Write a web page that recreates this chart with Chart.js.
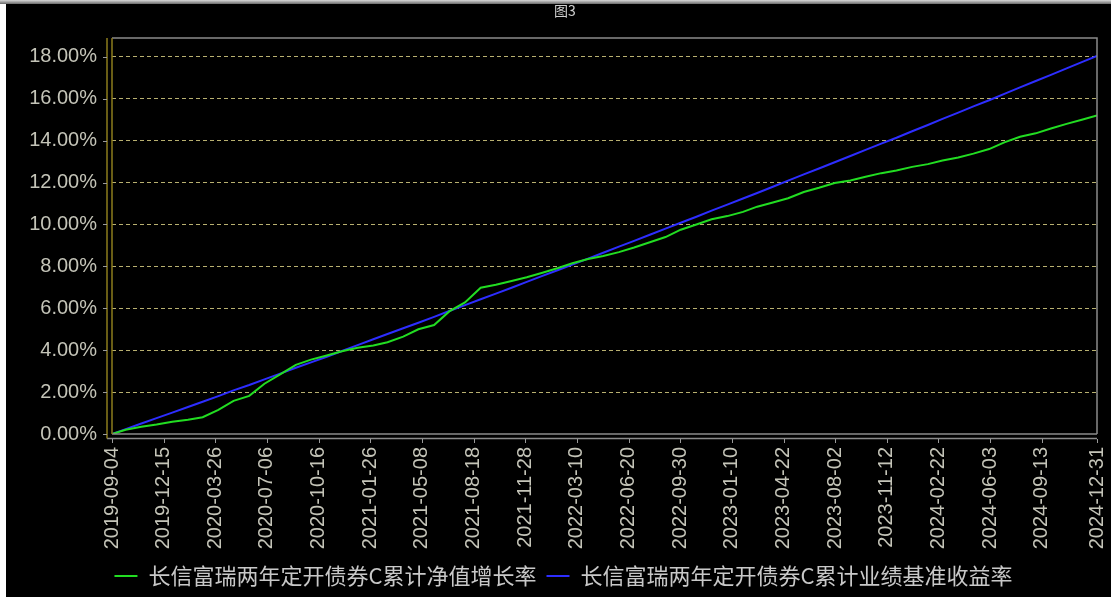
<!DOCTYPE html>
<html><head><meta charset="utf-8">
<script src="https://cdn.jsdelivr.net/npm/chart.js@4.4.1/dist/chart.umd.min.js"></script>
<style>
html,body{margin:0;padding:0;background:#fff;width:1111px;height:597px;overflow:hidden;}
#topbar{position:absolute;left:0;top:0;width:1111px;height:4px;background:linear-gradient(#d8d8d8,#6a6a6a);}
#wrap{position:absolute;left:6px;top:4px;width:1105px;height:593px;background:#000;}
canvas{display:block;}
</style></head><body>
<div id="topbar"></div>
<div id="wrap"><canvas id="c" width="1105" height="593"></canvas></div>
<script>
const titleText = '图3';
const seriesNames = ['长信富瑞两年定开债券C累计净值增长率', '长信富瑞两年定开债券C累计业绩基准收益率'];
const startDate = '2019-09-04';
const endDate = '2024-12-31';
const dates = ['2019-09-04','2019-10-01','2019-11-01','2019-12-01','2020-01-01','2020-02-01','2020-03-01','2020-04-01','2020-05-01','2020-06-01','2020-07-01','2020-08-01','2020-09-01','2020-10-01','2020-11-01','2020-12-01','2021-01-01','2021-02-01','2021-03-01','2021-04-01','2021-05-01','2021-06-01','2021-07-01','2021-08-01','2021-09-01','2021-10-01','2021-11-01','2021-12-01','2022-01-01','2022-02-01','2022-03-01','2022-04-01','2022-05-01','2022-06-01','2022-07-01','2022-08-01','2022-09-01','2022-10-01','2022-11-01','2022-12-01','2023-01-01','2023-02-01','2023-03-01','2023-04-01','2023-05-01','2023-06-01','2023-07-01','2023-08-01','2023-09-01','2023-10-01','2023-11-01','2023-12-01','2024-01-01','2024-02-01','2024-03-01','2024-04-01','2024-05-01','2024-06-01','2024-07-01','2024-08-01','2024-09-01','2024-10-01','2024-11-01','2024-12-01','2024-12-31'];
const navGrowth = [0,0.2,0.35,0.45,0.58,0.68,0.8,1.15,1.58,1.82,2.4,2.85,3.3,3.55,3.75,3.95,4.12,4.22,4.38,4.65,5.0,5.2,5.85,6.28,6.98,7.12,7.3,7.48,7.7,7.92,8.15,8.35,8.5,8.68,8.9,9.15,9.4,9.75,10.0,10.25,10.4,10.6,10.85,11.05,11.25,11.55,11.75,11.98,12.1,12.28,12.45,12.58,12.75,12.88,13.05,13.2,13.38,13.6,13.92,14.19,14.35,14.58,14.8,15.0,15.2];
const benchmark = [0,0.23,0.5,0.76,1.02,1.29,1.54,1.81,2.08,2.34,2.61,2.88,3.16,3.42,3.69,3.96,4.24,4.52,4.77,5.05,5.31,5.59,5.87,6.15,6.43,6.7,6.98,7.26,7.55,7.83,8.09,8.37,8.65,8.94,9.22,9.51,9.8,10.08,10.37,10.66,10.95,11.24,11.5,11.8,12.09,12.39,12.67,12.97,13.27,13.56,13.86,14.14,14.45,14.75,15.04,15.34,15.64,15.93,16.23,16.54,16.85,17.14,17.45,17.75,18.05];
const xTickLabels = ['2019-09-04','2019-12-15','2020-03-26','2020-07-06','2020-10-16','2021-01-26','2021-05-08','2021-08-18','2021-11-28','2022-03-10','2022-06-20','2022-09-30','2023-01-10','2023-04-22','2023-08-02','2023-11-12','2024-02-22','2024-06-03','2024-09-13','2024-12-31'];
const yTickValues = [0,2,4,6,8,10,12,14,16,18];
const colors = ['#22dd22', '#2d2dff'];

const dayOf = s => Math.round((Date.parse(s) - Date.parse(startDate)) / 86400000);
const pts = arr => dates.map((d, i) => ({x: dayOf(d), y: arr[i]}));

const frame = {
  id: 'frame',
  afterDraw(chart) {
    const {ctx, chartArea: a, scales} = chart;
    ctx.save();
    ctx.lineWidth = 1.5;
    ctx.strokeStyle = '#8a8a8a';
    ctx.beginPath();
    ctx.moveTo(a.left, a.top); ctx.lineTo(a.right, a.top); ctx.lineTo(a.right, a.bottom);
    ctx.moveTo(a.left, a.bottom); ctx.lineTo(a.right, a.bottom);
    ctx.moveTo(a.left - 5, a.bottom + 4.5); ctx.lineTo(a.right, a.bottom + 4.5);
    ctx.stroke();
    ctx.strokeStyle = '#8c7c1c';
    ctx.beginPath();
    ctx.moveTo(a.left, a.top); ctx.lineTo(a.left, a.bottom);
    ctx.moveTo(a.left - 5, a.top); ctx.lineTo(a.left - 5, a.bottom + 4.5);
    ctx.stroke();
    ctx.strokeStyle = '#9a9a9a';
    ctx.lineWidth = 1;
    ctx.beginPath();
    scales.y.ticks.forEach(t => {
      const y = Math.round(scales.y.getPixelForValue(t.value)) + 0.5;
      ctx.moveTo(a.left - 9, y); ctx.lineTo(a.left - 5, y);
    });
    scales.x.ticks.forEach(t => {
      const x = Math.round(scales.x.getPixelForValue(t.value)) + 0.5;
      ctx.moveTo(x, a.bottom + 5); ctx.lineTo(x, a.bottom + 9);
    });
    ctx.stroke();
    ctx.fillStyle = '#d0d0d0';
    ctx.font = '14px "Noto Sans CJK SC"';
    ctx.textAlign = 'center';
    ctx.textBaseline = 'middle';
    ctx.fillText(titleText, 559, 7);
    ctx.restore();
  }
};

new Chart(document.getElementById('c'), {
  type: 'line',
  data: {
    datasets: [
      {label: seriesNames[0], data: pts(navGrowth), borderColor: colors[0], backgroundColor: colors[0], borderWidth: 2, pointRadius: 0, tension: 0},
      {label: seriesNames[1], data: pts(benchmark), borderColor: colors[1], backgroundColor: colors[1], borderWidth: 2, pointRadius: 0, tension: 0}
    ]
  },
  options: {
    responsive: false,
    animation: false,
    devicePixelRatio: 1,
    layout: {padding: {top: 34, right: 14, left: 24, bottom: 0}},
    plugins: {
      tooltip: {enabled: false},
      legend: {
        position: 'bottom',
        align: 'center',
        labels: {
          color: '#c8c8c8',
          font: {family: '"Noto Sans CJK SC"', size: 22},
          boxWidth: 23,
          boxHeight: 2,
          padding: 10,
          generateLabels: chart => chart.data.datasets.map((ds, i) => ({
            text: ds.label, fillStyle: ds.borderColor, strokeStyle: ds.borderColor,
            lineWidth: 0, fontColor: '#c8c8c8', datasetIndex: i, hidden: false
          }))
        }
      }
    },
    scales: {
      x: {
        type: 'linear',
        min: 0,
        max: dayOf(endDate),
        afterBuildTicks: s => { s.ticks = xTickLabels.map(l => ({value: dayOf(l)})); },
        afterFit: s => { s.height = 121; s.paddingLeft = 0; s.paddingRight = 0; },
        grid: {display: false, drawTicks: false},
        border: {display: false},
        ticks: {
          autoSkip: false, minRotation: 90, maxRotation: 90, padding: 13,
          color: '#c4c4b8',
          font: {family: '"Liberation Sans"', size: 20},
          callback: v => { const l = xTickLabels.find(s => dayOf(s) === v); return l || ''; }
        }
      },
      y: {
        min: 0,
        max: 18.9,
        afterBuildTicks: s => { s.ticks = yTickValues.map(v => ({value: v})); },
        afterFit: s => { s.width = 82; },
        grid: {
          drawTicks: false,
          lineWidth: 1,
          color: c => (c.tick && c.tick.value === 0) ? 'rgba(0,0,0,0)' : '#b8b070'
        },
        border: {display: false, dash: [4, 3]},
        ticks: {
          padding: 15,
          color: '#c4c4b8',
          font: {family: '"Liberation Sans"', size: 20},
          callback: v => v.toFixed(2) + '%'
        }
      }
    }
  },
  plugins: [frame]
});
</script>
</body></html>
